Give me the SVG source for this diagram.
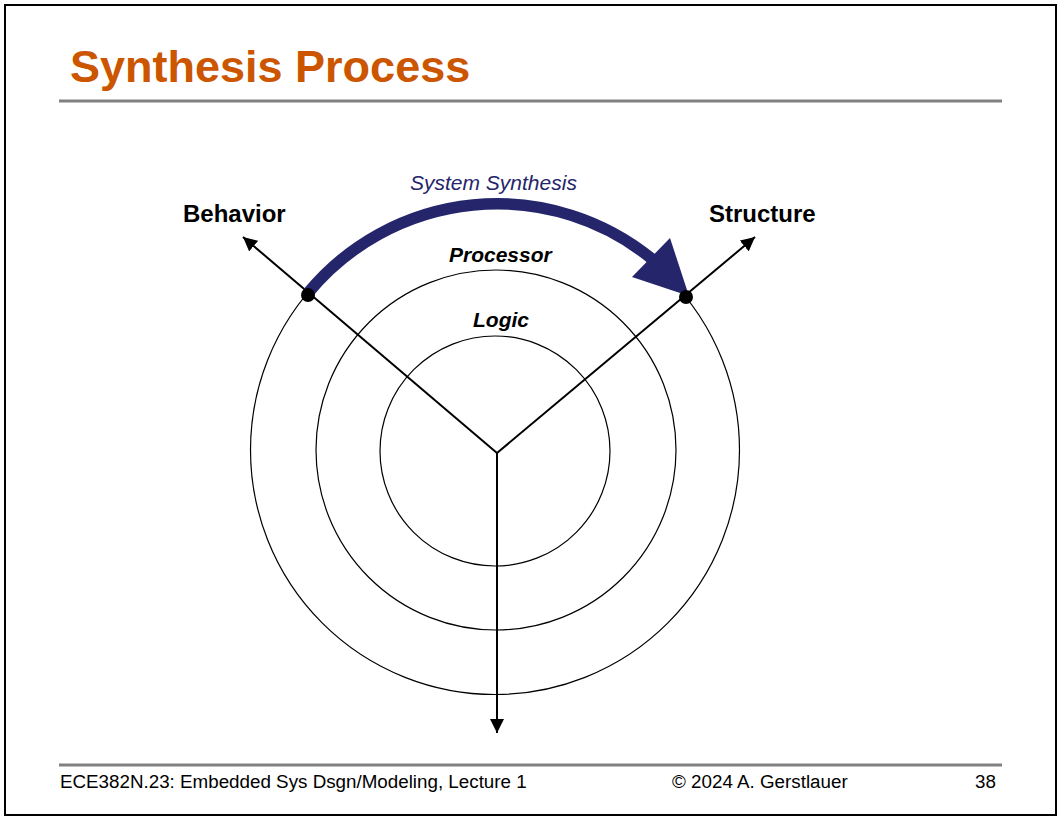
<svg xmlns="http://www.w3.org/2000/svg" width="1061" height="820" viewBox="0 0 1061 820">
<style>
.sans{font-family:"Liberation Sans",Arial,sans-serif}
.axis{stroke:#000;stroke-width:2;fill:none}
.ring{stroke:#000;stroke-width:1.2;fill:none}
.lbl{font-size:24px;font-weight:bold;fill:#000}
.lvl{font-size:21px;font-weight:bold;font-style:italic;fill:#000}
.foot{font-size:18.8px;fill:#000}
</style>
<defs>
<marker id="ah" viewBox="0 0 10 10" refX="10" refY="5" markerWidth="14" markerHeight="14" markerUnits="userSpaceOnUse" orient="auto">
<path d="M0,0 L10,5 L0,10 z" fill="#000"/>
</marker>
</defs>
<rect x="0" y="0" width="1061" height="820" fill="#fff"/>
<rect x="5" y="5" width="1051" height="810" fill="none" stroke="#000" stroke-width="2"/>
<g id="title">
<text x="70" y="82" class="sans" font-size="45" font-weight="bold" fill="#CC5500">Synthesis Process</text>
<line x1="59" y1="101" x2="1002" y2="101" stroke="#808080" stroke-width="3"/>
</g>
<g id="rings">
<circle cx="495" cy="451" r="115" class="ring"/>
<circle cx="496" cy="450" r="180" class="ring"/>
<circle cx="495" cy="450" r="244.5" class="ring"/>
</g>
<g id="connectors">
<line x1="497" y1="453" x2="243" y2="237" class="axis" marker-end="url(#ah)"/>
<line x1="497" y1="453" x2="755" y2="237" class="axis" marker-end="url(#ah)"/>
<line x1="497" y1="453" x2="497" y2="733" class="axis" marker-end="url(#ah)"/>
</g>
<g id="system-synthesis">
<path d="M308 293 A245 245 0 0 1 652 259" fill="none" stroke="#25256B" stroke-width="11.5"/>
<polygon points="670,238 632,277 689,296" fill="#25256B"/>
<text x="410" y="190" class="sans" font-size="21" font-style="italic" fill="#25256B">System Synthesis</text>
</g>
<g id="behavior">
<circle cx="308" cy="295" r="7" fill="#000"/>
<text x="183" y="222" class="sans lbl">Behavior</text>
</g>
<g id="structure">
<circle cx="686" cy="297" r="7" fill="#000"/>
<text x="709" y="222" class="sans lbl">Structure</text>
</g>
<g id="processor">
<text x="449" y="262" class="sans lvl">Processor</text>
</g>
<g id="logic">
<text x="473" y="327" class="sans lvl">Logic</text>
</g>
<g id="footer">
<line x1="59" y1="765" x2="1002" y2="765" stroke="#808080" stroke-width="3"/>
<text x="60" y="788" class="sans foot">ECE382N.23: Embedded Sys Dsgn/Modeling, Lecture 1</text>
<text x="672" y="788" class="sans foot">© 2024 A. Gerstlauer</text>
<text x="975" y="788" class="sans foot">38</text>
</g>
</svg>
